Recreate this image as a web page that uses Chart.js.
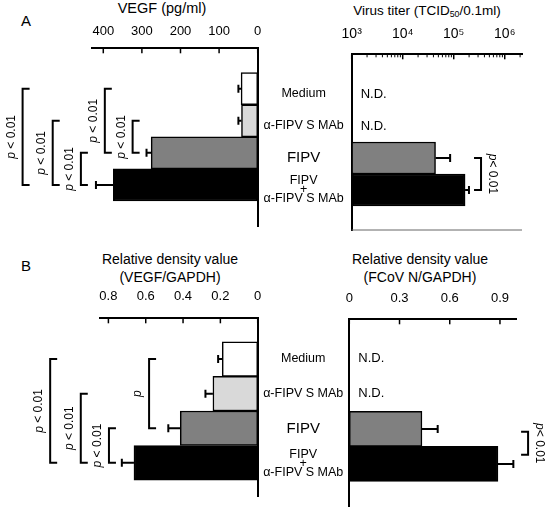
<!DOCTYPE html>
<html>
<head>
<meta charset="utf-8">
<script src="https://cdn.jsdelivr.net/npm/chart.js@4.4.1/dist/chart.umd.min.js"></script>
<style>
  body { margin: 0; background: #fff; }
  #fig { position: relative; width: 546px; height: 508px; overflow: hidden;
         font-family: 'Liberation Sans', Arial, Helvetica, sans-serif; color: #000; }
  #fig canvas { position: absolute; }
  .lbl { position: absolute; white-space: nowrap; line-height: 1; transform: translate(-50%, -50%); }
  .lbl sub { font-size: 65%; vertical-align: -0.25em; line-height: 0; }
</style>
</head>
<body>
<div id="fig">
  <div class="lbl" style="left:26px;top:20px;font-size:15px">A</div>
  <div class="lbl" style="left:162px;top:8px;font-size:14.5px">VEGF (pg/ml)</div>
  <div class="lbl" style="left:427px;top:11px;font-size:13.5px">Virus titer (TCID<sub>50</sub>/0.1ml)</div>

  <div class="lbl" style="left:26px;top:265px;font-size:15px">B</div>
  <div class="lbl" style="left:170px;top:259px;font-size:14px">Relative density value</div>
  <div class="lbl" style="left:170px;top:277px;font-size:14px">(VEGF/GAPDH)</div>
  <div class="lbl" style="left:420px;top:259px;font-size:14px">Relative density value</div>
  <div class="lbl" style="left:420px;top:277px;font-size:14px">(FCoV N/GAPDH)</div>

  <canvas id="vegfProtein" width="262" height="240" style="left:0;top:0"></canvas>
  <canvas id="virusTiter" width="284" height="240" style="left:262px;top:0"></canvas>
  <canvas id="vegfMrna" width="262" height="258" style="left:0;top:250px"></canvas>
  <canvas id="fcovN" width="284" height="258" style="left:262px;top:250px"></canvas>
</div>

<script>
const FONT = "'Liberation Sans', Arial, Helvetica, sans-serif"
Chart.defaults.font.family = FONT
Chart.defaults.color = '#000'

// Groups, top to bottom
const groups = ['Medium', 'α-FIPV S MAb', 'FIPV', ['FIPV', '+', 'α-FIPV S MAb']]
const barColors = ['#ffffff', '#d9d9d9', '#808080', '#000000']

// A: VEGF protein (pg/ml) and virus titer (TCID50/0.1ml)
const vegfProtein = [43, 42, 276, 374]
const vegfProteinSd = [7, 8, 12, 45]
const virusTiter = [null, null, 44000, 167000]
const virusTiterSd = [null, null, 41000, 32000]

// B: relative density values
const vegfMrna = [0.19, 0.24, 0.415, 0.663]
const vegfMrnaSd = [0.022, 0.04, 0.064, 0.065]
const fcovN = [null, null, 0.434, 0.888]
const fcovNSd = [null, null, 0.094, 0.092]

// Tick values
const vegfProteinTicks = [0, 100, 200, 300, 400]
const virusTiterTicks = [1e3, 1e4, 1e5, 1e6]
const vegfMrnaTicks = [0, 0.2, 0.4, 0.6, 0.8]
const fcovNTicks = [0, 0.3, 0.6, 0.9]
const superscripts = { 3: '³', 4: '⁴', 5: '⁵', 6: '⁶' }

// Significance brackets: from/to are group indexes, at is a value on the x scale
const vegfProteinSig = [
  { from: 0, to: 3, at: 609, text: 'p < 0.01' },
  { from: 1, to: 3, at: 531, text: 'p < 0.01' },
  { from: 2, to: 3, at: 458, text: 'p < 0.01' },
  { from: 0, to: 2, at: 396, text: 'p < 0.01' },
  { from: 1, to: 2, at: 324, text: 'p < 0.01' }
]
const virusTiterSig = [{ from: 2, to: 3, at: 343000, text: 'p< 0.01' }]
const vegfMrnaSig = [
  { from: 0, to: 3, at: 1.112, text: 'p < 0.01' },
  { from: 1, to: 3, at: 0.948, text: 'p < 0.01' },
  { from: 2, to: 3, at: 0.797, text: 'p < 0.01' },
  { from: 0, to: 2, at: 0.582, text: 'p' }
]
const fcovNSig = [{ from: 2.08, to: 2.74, at: 1.068, text: 'p< 0.01' }]

/*
 * Draws error bars, inward tick marks, N.D. notes and p-value brackets
 */
function decorations(spec) {
  return {
    id: 'decorations',
    afterDatasetsDraw(chart) {
      const ctx = chart.ctx
      const xs = chart.scales.x
      const ys = chart.scales.y
      const area = chart.chartArea
      ctx.save()
      ctx.strokeStyle = '#000'
      ctx.fillStyle = '#000'

      // error bars, outward side only
      ctx.lineWidth = 2
      spec.values.forEach((v, i) => {
        if (v == null) return
        const y = ys.getPixelForValue(i)
        const x0 = xs.getPixelForValue(v)
        const x1 = xs.getPixelForValue(v + spec.errors[i])
        ctx.beginPath()
        ctx.moveTo(x0, y)
        ctx.lineTo(x1, y)
        ctx.moveTo(x1, y - 4)
        ctx.lineTo(x1, y + 4)
        ctx.stroke()
      })

      // tick marks pointing into the plot
      ctx.lineWidth = 1.5
      xs.ticks.forEach(t => {
        const x = xs.getPixelForValue(t.value)
        ctx.beginPath()
        ctx.moveTo(x, area.top)
        ctx.lineTo(x, area.top + 5)
        ctx.stroke()
      })
      if (xs.type === 'logarithmic') {
        ctx.lineWidth = 1
        for (let e = 3; e <= 6; e++) {
          for (let m = 2; m <= 9; m++) {
            const v = m * Math.pow(10, e)
            if (v > xs.max) continue
            const x = xs.getPixelForValue(v)
            ctx.beginPath()
            ctx.moveTo(x, area.top)
            ctx.lineTo(x, area.top + 3)
            ctx.stroke()
          }
        }
      }

      if (spec.bottomLine) {
        ctx.strokeStyle = '#666'
        ctx.lineWidth = 1
        ctx.beginPath()
        ctx.moveTo(area.left, area.bottom)
        ctx.lineTo(area.right, area.bottom)
        ctx.stroke()
        ctx.strokeStyle = '#000'
      }

      // not detected
      ctx.font = `13px ${FONT}`
      ctx.textAlign = 'left'
      ctx.textBaseline = 'middle'
      spec.values.forEach((v, i) => {
        if (v != null) return
        ctx.fillText('N.D.', area.left + 9, ys.getPixelForValue(i))
      })

      // brackets: ticks point toward the bars
      const dir = spec.side === 'left' ? 1 : -1
      spec.sig.forEach(s => {
        const x = xs.getPixelForValue(s.at)
        const ya = ys.getPixelForValue(s.from)
        const yb = ys.getPixelForValue(s.to)
        ctx.lineWidth = 2
        ctx.beginPath()
        ctx.moveTo(x + dir * 7, ya)
        ctx.lineTo(x, ya)
        ctx.lineTo(x, yb)
        ctx.lineTo(x + dir * 7, yb)
        ctx.stroke()

        ctx.save()
        ctx.translate(x - dir * 11, (ya + yb) / 2)
        ctx.rotate(dir === 1 ? -Math.PI / 2 : Math.PI / 2)
        const italic = `italic 12px ${FONT}`
        const plain = `12px ${FONT}`
        const head = s.text.slice(0, 1)
        const rest = s.text.slice(1)
        ctx.font = italic
        const wHead = ctx.measureText(head).width
        ctx.font = plain
        const wRest = ctx.measureText(rest).width
        const x0 = -(wHead + wRest) / 2
        ctx.textAlign = 'left'
        ctx.textBaseline = 'middle'
        ctx.font = italic
        ctx.fillText(head, x0, 0)
        ctx.font = plain
        ctx.fillText(rest, x0 + wHead, 0)
        ctx.restore()
      })
      ctx.restore()
    }
  }
}

// Fixed scale sizes, no extra room asked for overhanging labels
function fixSize(size) {
  return s => {
    if (s.isHorizontal()) s.height = size
    else s.width = size
    s.paddingTop = s.paddingBottom = s.paddingLeft = s.paddingRight = 0
  }
}

function horizontalBars(id, spec) {
  const data = spec.values
    .map((v, i) => ({ x: v, y: i }))
    .filter(d => d.x != null)
  const a = spec.area
  const labelled = spec.side === 'right'

  return new Chart(document.getElementById(id), {
    type: 'bar',
    data: {
      datasets: [{
        data: data,
        backgroundColor: ctx => barColors[ctx.raw.y],
        borderColor: '#000',
        borderWidth: 1.5,
        borderSkipped: false,
        categoryPercentage: 1,
        barPercentage: 1
      }]
    },
    options: {
      indexAxis: 'y',
      responsive: false,
      animation: false,
      layout: {
        padding: {
          top: 0,
          bottom: a.bottom,
          left: labelled ? 0 : a.left,
          right: a.right
        }
      },
      plugins: { legend: { display: false }, tooltip: { enabled: false } },
      scales: {
        x: {
          type: spec.xType,
          position: 'top',
          bounds: 'data',
          reverse: spec.reverse,
          min: spec.xMin,
          max: spec.xMax,
          afterBuildTicks: s => { s.ticks = spec.ticks.map(v => ({ value: v })) },
          afterFit: fixSize(a.top),
          grid: { display: false, drawTicks: false },
          border: { color: '#000', width: 2 },
          ticks: {
            autoSkip: false,
            maxRotation: 0,
            padding: spec.tickPadding,
            font: { size: spec.tickSize || 13 },
            callback: spec.tickLabel || (v => String(v))
          }
        },
        y: {
          type: 'linear',
          position: labelled ? 'left' : 'right',
          bounds: 'data',
          offset: false,
          reverse: true,
          min: spec.yMin,
          max: spec.yMax,
          afterBuildTicks: s => { s.ticks = groups.map((g, i) => ({ value: i })) },
          afterFit: fixSize(labelled ? a.left : 0),
          grid: { display: false, drawTicks: false, offset: false },
          border: { color: '#000', width: 2 },
          ticks: {
            display: labelled,
            autoSkip: false,
            crossAlign: 'center',
            padding: spec.labelPadding || 0,
            callback: (v, i) => groups[i],
            font: c => c.index === 2
              ? { size: 15 }
              : { size: 12.5, lineHeight: 0.72 }
          }
        }
      }
    },
    plugins: [decorations(spec)]
  })
}

horizontalBars('vegfProtein', {
  values: vegfProtein, errors: vegfProteinSd, sig: vegfProteinSig,
  side: 'left', xType: 'linear', reverse: true, xMin: 0, xMax: 430,
  ticks: vegfProteinTicks, tickPadding: 9,
  yMin: -1.26, yMax: 4.28,
  area: { left: 91.7, top: 48.3, right: 4.3, bottom: 14 }
})

horizontalBars('virusTiter', {
  values: virusTiter, errors: virusTiterSd, sig: virusTiterSig,
  side: 'right', xType: 'logarithmic', reverse: false, xMin: 1e3, xMax: 2.18e6,
  ticks: virusTiterTicks, tickPadding: 11.5, tickSize: 14,
  tickLabel: v => '10' + superscripts[Math.round(Math.log10(v))],
  yMin: -1.24, yMax: 4.25, labelPadding: 8, bottomLine: true,
  area: { left: 89.7, top: 54.3, right: 24, bottom: 10 }
})

horizontalBars('vegfMrna', {
  values: vegfMrna, errors: vegfMrnaSd, sig: vegfMrnaSig,
  side: 'left', xType: 'linear', reverse: true, xMin: 0, xMax: 0.845,
  ticks: vegfMrnaTicks, tickPadding: 13.8,
  yMin: -1.18, yMax: 3.98,
  area: { left: 100, top: 68.3, right: 4.3, bottom: 11.3 }
})

horizontalBars('fcovN', {
  values: fcovN, errors: fcovNSd, sig: fcovNSig,
  side: 'right', xType: 'linear', reverse: false, xMin: 0, xMax: 1.0,
  ticks: fcovNTicks, tickPadding: 13.5,
  yMin: -1.13, yMax: 4.22, labelPadding: 6,
  area: { left: 87.3, top: 69.3, right: 29.3, bottom: 1.3 }
})
</script>
</body>
</html>
